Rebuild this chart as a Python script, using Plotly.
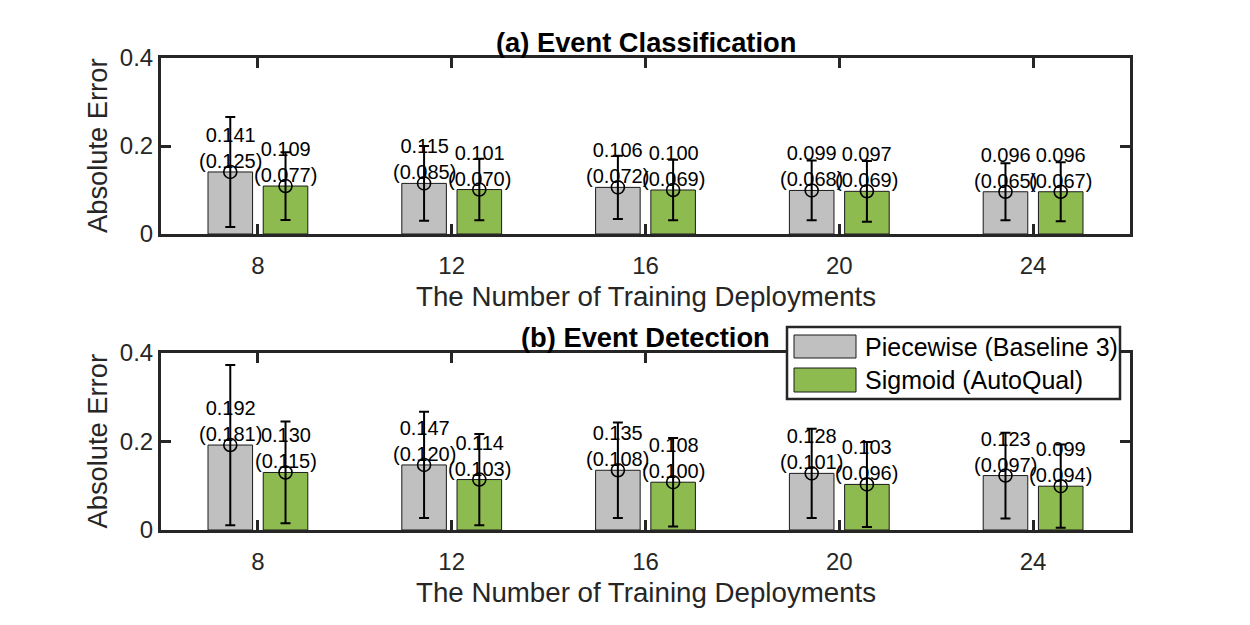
import plotly.graph_objects as go

# ---------------- data ----------------
deployments = [8, 12, 16, 20, 24]
tick_labels = ["8", "12", "16", "20", "24"]
series_names = ["Piecewise (Baseline 3)", "Sigmoid (AutoQual)"]

# (a) Event Classification
cls_piecewise_mean = [0.141, 0.115, 0.106, 0.099, 0.096]
cls_piecewise_std = [0.125, 0.085, 0.072, 0.068, 0.065]
cls_sigmoid_mean = [0.109, 0.101, 0.100, 0.097, 0.096]
cls_sigmoid_std = [0.077, 0.070, 0.069, 0.069, 0.067]

# (b) Event Detection
det_piecewise_mean = [0.192, 0.147, 0.135, 0.128, 0.123]
det_piecewise_std = [0.181, 0.120, 0.108, 0.101, 0.097]
det_sigmoid_mean = [0.130, 0.114, 0.108, 0.103, 0.099]
det_sigmoid_std = [0.115, 0.103, 0.100, 0.096, 0.094]

y_ticks = [0, 0.2, 0.4]
y_tick_labels = ["0", "0.2", "0.4"]

# ---------------- style ----------------
FONT = "Liberation Sans, Arial, sans-serif"
AX = "#262626"
GRAY = "#C0C0C0"
GREEN = "#8EBB50"
W, H = 1250, 625
ML, MR, MT, MB = 161, 120, 58, 95
PW, PH = W - ML - MR, H - MT - MB

BAR_W = 0.92
SHIFT = 0.57


def px_x(px):
    return (px - ML) / PW


def px_y(py):
    return (H - MB - py) / PH


fig = go.Figure()
annotations = []

panels = [
    ("x", "y", cls_piecewise_mean, cls_piecewise_std, cls_sigmoid_mean, cls_sigmoid_std),
    ("x2", "y2", det_piecewise_mean, det_piecewise_std, det_sigmoid_mean, det_sigmoid_std),
]

for xa, ya, pm, ps, sm, ss in panels:
    for means, stds, color, sgn in [(pm, ps, GRAY, -1), (sm, ss, GREEN, 1)]:
        xs = [d + sgn * SHIFT for d in deployments]
        fig.add_trace(go.Bar(
            x=xs, y=means, width=BAR_W, xaxis=xa, yaxis=ya,
            marker=dict(color=color, line=dict(color="#1a1a1a", width=1)),
            showlegend=False, hoverinfo="skip",
        ))
        fig.add_trace(go.Scatter(
            x=xs, y=means, mode="markers", xaxis=xa, yaxis=ya,
            marker=dict(symbol="circle-open", size=13, color="black", line=dict(width=1.6)),
            error_y=dict(type="data", array=stds, visible=True, color="black", thickness=2, width=5),
            showlegend=False, hoverinfo="skip",
        ))
        for x, m, s in zip(xs, means, stds):
            annotations.append(dict(
                x=x, y=m, xref=xa, yref=ya, text=f"{m:.3f}<br>({s:.3f})",
                showarrow=False, xanchor="center", yanchor="bottom", yshift=-2,
                font=dict(family=FONT, size=20, color="black"),
            ))

axis_common = dict(
    showline=True, linecolor=AX, linewidth=3, mirror="ticks",
    ticks="inside", ticklen=10, tickwidth=3, tickcolor=AX,
    showgrid=False, zeroline=False,
    tickfont=dict(family=FONT, size=24, color=AX),
)

top_dom = [px_y(234), 1.0]
bot_dom = [0.0, px_y(353)]

fig.update_layout(
    width=W, height=H,
    margin=dict(l=ML, r=MR, t=MT, b=MB),
    paper_bgcolor="white", plot_bgcolor="white",
    barmode="overlay",
    xaxis=dict(axis_common, range=[6, 26], tickvals=deployments, ticktext=tick_labels,
               anchor="y", domain=[0, 1], ticklabelstandoff=8),
    yaxis=dict(axis_common, range=[0, 0.4], tickvals=y_ticks, ticktext=y_tick_labels,
               anchor="x", domain=top_dom),
    xaxis2=dict(axis_common, range=[6, 26], tickvals=deployments, ticktext=tick_labels,
                anchor="y2", domain=[0, 1], ticklabelstandoff=8),
    yaxis2=dict(axis_common, range=[0, 0.4], tickvals=y_ticks, ticktext=y_tick_labels,
                anchor="x2", domain=bot_dom),
)

# titles and axis labels
for ya, xa, title, ty in [("y", "x", "(a) Event Classification", 42),
                          ("y2", "x2", "(b) Event Detection", 337)]:
    annotations.append(dict(
        x=0.5, y=px_y(ty), xref="paper", yref="paper", text=f"<b>{title}</b>",
        showarrow=False, xanchor="center", yanchor="middle",
        font=dict(family=FONT, size=27.3, color="black"),
    ))
    annotations.append(dict(
        x=0.5, y=0, xref=f"{xa} domain", yref=f"{ya} domain",
        text="The Number of Training Deployments", showarrow=False,
        xanchor="center", yanchor="middle", yshift=-62,
        font=dict(family=FONT, size=27.7, color=AX),
    ))
    annotations.append(dict(
        x=0, y=0.5, xref=f"{xa} domain", yref=f"{ya} domain",
        text="Absolute Error", showarrow=False, textangle=-90,
        xanchor="center", yanchor="middle", xshift=-64,
        font=dict(family=FONT, size=27.3, color=AX),
    ))

# legend (drawn manually to match MATLAB swatches)
shapes = [
    dict(type="rect", xref="paper", yref="paper", layer="above",
         x0=px_x(787), x1=px_x(1120), y0=px_y(399), y1=px_y(327),
         fillcolor="white", line=dict(color=AX, width=2.5)),
]
for name, color, y0, y1, yc in [(series_names[0], GRAY, 335, 358, 347),
                                (series_names[1], GREEN, 368, 392, 380)]:
    shapes.append(dict(type="rect", xref="paper", yref="paper", layer="above",
                       x0=px_x(794), x1=px_x(856), y0=px_y(y1), y1=px_y(y0),
                       fillcolor=color, line=dict(color="#1a1a1a", width=1)))
    annotations.append(dict(
        x=px_x(863), y=px_y(yc), xref="paper", yref="paper", text=name,
        showarrow=False, xanchor="left", yanchor="middle",
        font=dict(family=FONT, size=25, color="black"),
    ))

fig.update_layout(annotations=annotations, shapes=shapes)
fig.write_html("out.html")
